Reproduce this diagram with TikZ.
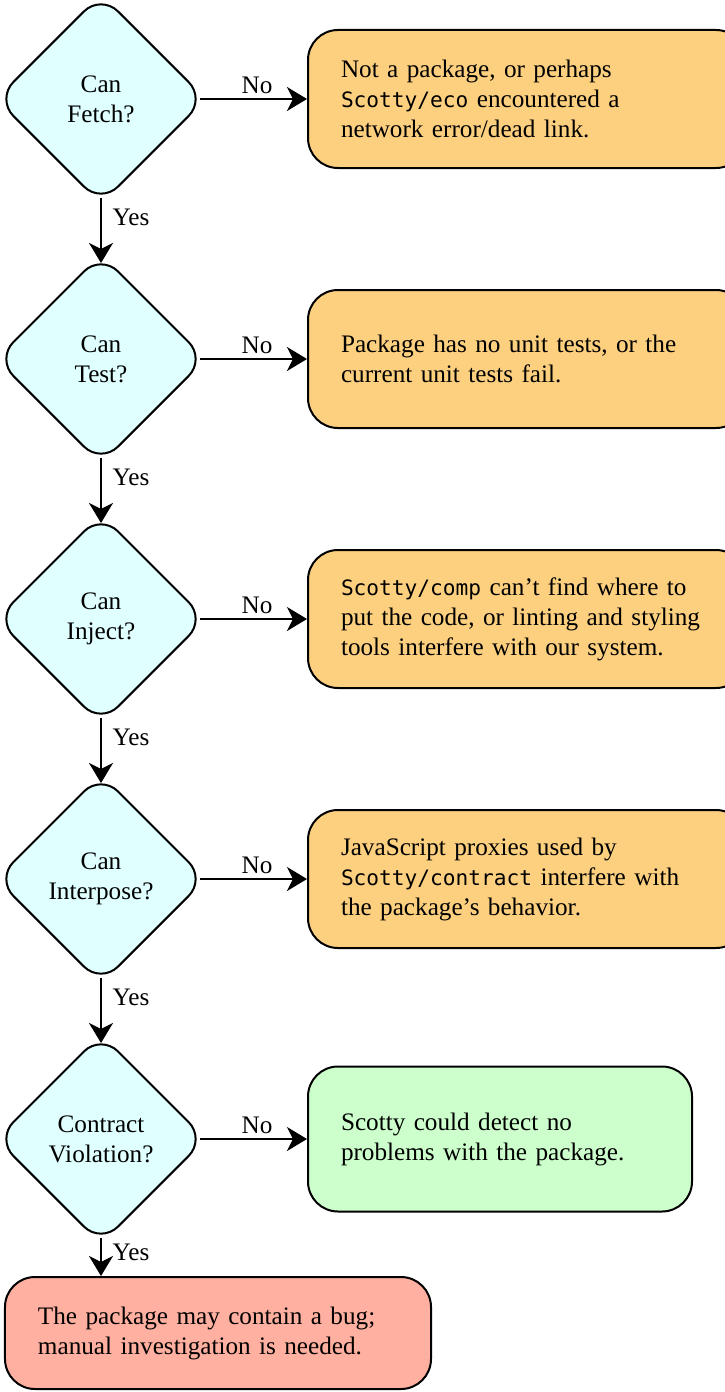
\documentclass[tikz,border=0pt]{standalone}
\usepackage{fontspec}
\setmainfont{Liberation Serif}
\setmonofont{DejaVu Sans Mono}[Scale=0.84]
\usepackage{tikz}
\usetikzlibrary{shapes.geometric, arrows.meta, positioning}
\definecolor{askcyan}{RGB}{224,255,255}
\definecolor{failorange}{RGB}{253,208,128}
\definecolor{passgreen}{RGB}{204,255,204}
\definecolor{bugred}{RGB}{255,176,160}

\begin{document}
\begin{tikzpicture}[
    node distance=24pt,
    font=\fontsize{12.6}{15}\selectfont,
    question/.style={diamond, rounded corners=12pt, minimum width=105pt, minimum height=105pt, inner sep=0pt, align=center, draw=black, line width=1pt, fill=askcyan},
    outcome/.style={rectangle, rounded corners=15pt, text width=186pt, inner xsep=16.5pt, minimum height=69pt, align=left, draw=black, line width=1pt, fill=failorange},
    arrow/.style={-{Stealth[length=10pt, width=12pt, inset=3pt]}, line width=1pt, shorten <=-3.5pt},
    yes/.style={arrow, shorten >=-5pt},
    edgelabel/.style={inner sep=2pt}
]
\useasboundingbox (-50.5pt,49.5pt) rectangle (311.5pt,-646.5pt);

\node[question] (fetch) {Can\\Fetch?};
\node[question, below=of fetch] (test) {Can\\Test?};
\node[question, below=of test] (inject) {Can\\Inject?};
\node[question, below=of inject] (interpose) {Can\\Interpose?};
\node[question, below=of interpose] (violation) {Contract\\Violation?};

\node[outcome, right=50pt of fetch] (nofetch) {Not a package, or perhaps\\\texttt{Scotty/eco} encountered a\\network error/dead link.};
\node[outcome, right=50pt of test] (notest) {Package has no unit tests, or the\\current unit tests fail.};
\node[outcome, right=50pt of inject] (noinject) {\texttt{Scotty/comp} can't find where to\\put the code, or linting and styling\\tools interfere with our system.};
\node[outcome, right=50pt of interpose] (nointerpose) {JavaScript proxies used by\\\texttt{Scotty/contract} interfere with\\the package's behavior.};
\node[outcome, fill=passgreen, text width=159pt, minimum height=72.5pt, right=50pt of violation] (noviolation) {Scotty could detect no\\problems with the package.};
\node[outcome, fill=bugred, text width=180pt, minimum height=56pt, below=15.5pt of violation, xshift=58.5pt] (bug) {The package may contain a bug;\\manual investigation is needed.};

\draw[arrow] (fetch) -- node[edgelabel, above] {No} (nofetch);
\draw[arrow] (test) -- node[edgelabel, above] {No} (notest);
\draw[arrow] (inject) -- node[edgelabel, above] {No} (noinject);
\draw[arrow] (interpose) -- node[edgelabel, above] {No} (nointerpose);
\draw[arrow] (violation) -- node[edgelabel, above] {No} (noviolation);

\draw[yes] (fetch) -- node[near start, right, xshift=2pt] {Yes} (test);
\draw[yes] (test) -- node[near start, right, xshift=2pt] {Yes} (inject);
\draw[yes] (inject) -- node[near start, right, xshift=2pt] {Yes} (interpose);
\draw[yes] (interpose) -- node[near start, right, xshift=2pt] {Yes} (violation);
\draw[arrow] (violation) -- node[near start, right, xshift=2pt] {Yes} (violation.south |- bug.north);

\end{tikzpicture}
\end{document}
